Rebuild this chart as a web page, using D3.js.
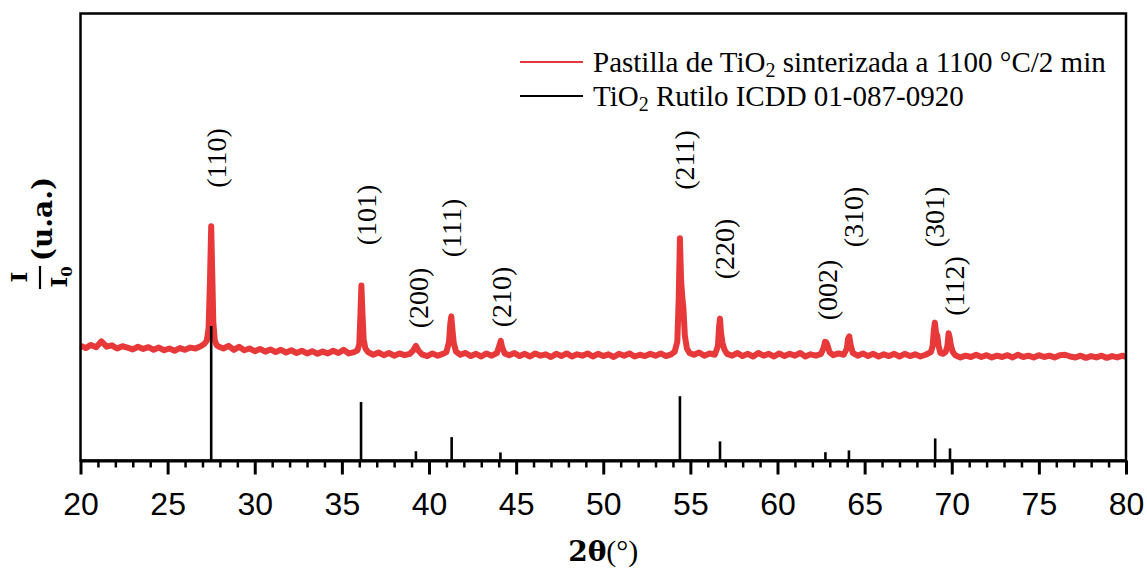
<!DOCTYPE html>
<html>
<head>
<meta charset="utf-8">
<script src="https://cdn.jsdelivr.net/npm/d3@7"></script>
<style>
  html, body { margin: 0; padding: 0; background: #ffffff; }
  svg { display: block; }
</style>
</head>
<body>
<svg id="chart" width="1147" height="569"></svg>
<script>
// ---- data -------------------------------------------------------------
// X-axis ticks (2θ, degrees)
const majorTicks = [20, 25, 30, 35, 40, 45, 50, 55, 60, 65, 70, 75, 80];
const minorTicks = d3.range(20, 81, 1).filter(v => v % 5 !== 0);

// Reference pattern: rutile TiO2, ICDD 01-087-0920 (relative intensity, %)
const refHkl       = ["(110)", "(101)", "(200)", "(111)", "(210)", "(211)", "(220)", "(002)", "(310)", "(301)", "(112)"];
const refAngle     = [27.5, 36.1, 39.25, 41.3, 44.1, 54.4, 56.7, 62.75, 64.1, 69.05, 69.9];
const refIntensity = [100, 43.5, 6.9, 17.4, 6.0, 47.8, 14.2, 6.2, 7.5, 16.4, 9.0];

// Measured scan of the pellet sintered at 1100 °C / 2 min: [2θ, I (u.a.)]
const scan = [
  [20.0,25.6],[20.3,25.1],[20.6,25.8],[20.9,25.3],[21.2,26.6],[21.5,25.4],[21.8,25.7],[22.1,25.0],
  [22.4,25.5],[22.7,25.2],[23.0,24.8],[23.3,25.4],[23.6,24.9],[23.9,25.3],[24.2,24.7],[24.5,25.2],
  [24.8,24.6],[25.1,25.0],[25.4,24.5],[25.7,25.1],[26.0,24.7],[26.3,25.2],[26.6,25.0],[26.9,25.5],
  [27.1,26.0],[27.25,26.8],[27.35,29.5],[27.43,40.0],[27.5,52.4],[27.56,42.0],[27.62,31.0],[27.7,27.0],
  [27.8,25.8],[27.95,25.4],[28.2,25.0],[28.5,25.6],[28.8,24.7],[29.1,25.4],[29.4,24.6],[29.7,25.0],
  [30.0,24.4],[30.3,24.9],[30.6,24.3],[30.9,24.8],[31.2,24.2],[31.5,24.7],[31.8,24.1],[32.1,24.6],
  [32.4,24.0],[32.7,24.5],[33.0,23.9],[33.3,24.4],[33.6,23.8],[33.9,24.3],[34.2,23.9],[34.5,24.5],
  [34.8,24.0],[35.1,24.7],[35.4,23.9],[35.7,24.2],[35.9,24.6],[36.0,26.0],[36.06,32.0],[36.12,39.1],
  [36.18,33.0],[36.25,27.0],[36.35,25.0],[36.5,24.2],[36.8,23.6],[37.1,24.1],[37.4,23.5],[37.7,24.0],
  [38.0,23.4],[38.3,23.9],[38.6,23.5],[38.9,23.8],[39.1,24.6],[39.25,25.6],[39.4,24.5],[39.6,23.7],
  [39.9,23.3],[40.2,23.9],[40.5,23.4],[40.8,23.8],[41.0,24.2],[41.15,26.5],[41.22,30.5],[41.28,32.2],
  [41.35,29.0],[41.42,26.2],[41.55,24.3],[41.8,23.6],[42.1,24.0],[42.4,23.3],[42.7,23.8],[43.0,23.2],
  [43.3,23.9],[43.6,23.4],[43.9,24.0],[44.05,25.8],[44.12,26.7],[44.2,25.2],[44.35,23.9],[44.6,23.5],
  [44.9,24.0],[45.2,23.3],[45.5,23.8],[45.8,23.2],[46.1,23.9],[46.4,23.4],[46.7,23.7],[47.0,23.1],
  [47.3,23.8],[47.6,23.3],[47.9,23.9],[48.2,23.2],[48.5,23.7],[48.8,23.4],[49.1,23.9],[49.4,23.2],
  [49.7,23.8],[50.0,23.3],[50.3,23.7],[50.6,23.1],[50.9,23.8],[51.2,23.4],[51.5,23.9],[51.8,23.2],
  [52.1,23.6],[52.4,23.3],[52.7,23.8],[53.0,23.4],[53.3,23.9],[53.6,23.3],[53.9,23.7],[54.1,24.3],
  [54.25,26.5],[54.33,36.0],[54.4,49.7],[54.47,40.0],[54.54,36.4],[54.6,34.0],[54.68,28.0],[54.8,25.0],
  [54.95,24.0],[55.2,23.6],[55.5,24.1],[55.8,23.4],[56.1,23.9],[56.4,23.6],[56.58,25.5],[56.65,30.0],
  [56.7,31.7],[56.76,28.5],[56.84,26.3],[56.95,24.8],[57.1,23.8],[57.4,23.4],[57.7,24.0],[58.0,23.3],
  [58.3,23.8],[58.6,23.2],[58.9,24.0],[59.2,23.4],[59.5,23.8],[59.8,23.2],[60.1,23.9],[60.4,23.3],
  [60.7,23.8],[61.0,23.4],[61.3,24.0],[61.6,23.2],[61.9,23.7],[62.2,23.4],[62.5,23.8],[62.65,25.2],
  [62.73,26.5],[62.8,26.4],[62.88,25.6],[62.98,24.2],[63.2,23.5],[63.5,23.9],[63.8,23.6],[63.98,25.0],
  [64.05,27.2],[64.12,27.7],[64.2,25.8],[64.32,24.0],[64.6,23.4],[64.9,23.9],[65.2,23.3],[65.5,23.8],
  [65.8,23.2],[66.1,23.7],[66.4,23.3],[66.7,23.8],[67.0,23.2],[67.3,23.8],[67.6,23.3],[67.9,23.7],
  [68.2,23.2],[68.5,23.6],[68.8,24.2],[68.9,25.5],[68.97,29.0],[69.03,30.8],[69.1,28.5],[69.17,27.9],
  [69.25,25.5],[69.35,24.0],[69.5,23.8],[69.65,24.2],[69.75,25.6],[69.82,28.4],[69.88,27.5],[69.95,25.7],
  [70.05,24.3],[70.2,23.5],[70.5,23.0],[70.8,23.4],[71.1,23.1],[71.4,23.6],[71.7,23.1],[72.0,23.5],
  [72.3,23.0],[72.6,23.4],[72.9,23.1],[73.2,23.5],[73.5,23.0],[73.8,23.6],[74.1,23.1],[74.4,23.4],
  [74.7,23.0],[75.0,23.5],[75.3,23.1],[75.6,23.4],[75.9,23.0],[76.2,23.5],[76.5,23.6],[76.8,23.2],
  [77.1,23.0],[77.4,23.4],[77.7,22.9],[78.0,23.3],[78.3,23.0],[78.6,23.4],[78.9,22.9],[79.2,23.3],
  [79.5,23.0],[79.8,23.4],[80.0,23.1]
];

const legendEntries = [
  { text: ["Pastilla de TiO", "2", " sinterizada a 1100 °C/2 min"], color: "#e8393a" },
  { text: ["TiO", "2", " Rutilo ICDD 01-087-0920"], color: "#000000" }
];

// ---- layout -----------------------------------------------------------
const plot = { left: 80.5, right: 1126, top: 13.5, bottom: 460.5 };
const scanColor = "#e8393a";
const serif = "'Liberation Serif', 'Times New Roman', serif";
const boldSerif = "'DejaVu Serif', serif";

// pixel centres of the rotated Miller-index labels
const hklLabelPos = [
  [216, 158], [366, 215], [418, 298], [451, 228], [501, 297],
  [684, 160], [724, 249], [827, 290], [853, 217], [934, 217], [954, 286]
];

const svg = d3.select("#chart");

const x = d3.scaleLinear().domain([20, 80]).range([plot.left, plot.right]);
const yScan = d3.scaleLinear().domain([0, 100]).range([460, 14]);
const yRef = d3.scaleLinear().domain([0, 100]).range([plot.bottom, 326]);

// measured pattern
const line = d3.line()
  .x(d => x(d[0]))
  .y(d => yScan(d[1]));

svg.append("path")
  .datum(scan)
  .attr("d", line)
  .attr("fill", "none")
  .attr("stroke", scanColor)
  .attr("stroke-width", 6)
  .attr("stroke-linejoin", "round")
  .attr("stroke-linecap", "butt");

// reference sticks
svg.append("g")
  .selectAll("line")
  .data(refAngle.map((a, i) => [a, refIntensity[i]]))
  .join("line")
  .attr("x1", d => x(d[0]))
  .attr("x2", d => x(d[0]))
  .attr("y1", yRef(0))
  .attr("y2", d => yRef(d[1]))
  .attr("stroke", "#000")
  .attr("stroke-width", 2.6);

// frame
svg.append("rect")
  .attr("x", plot.left)
  .attr("y", plot.top)
  .attr("width", plot.right - plot.left)
  .attr("height", plot.bottom - plot.top)
  .attr("fill", "none")
  .attr("stroke", "#000")
  .attr("stroke-width", 2.5);

// x axis: minor ticks
const minorAxis = svg.append("g")
  .attr("transform", `translate(0,${plot.bottom})`)
  .call(d3.axisBottom(x).tickValues(minorTicks).tickSize(7).tickFormat(""));
minorAxis.select(".domain").remove();
minorAxis.selectAll(".tick line").attr("stroke-width", 2.5);

// x axis: major ticks + labels
const majorAxis = svg.append("g")
  .attr("transform", `translate(0,${plot.bottom})`)
  .call(d3.axisBottom(x).tickValues(majorTicks).tickSize(14).tickSizeOuter(0).tickPadding(18));
majorAxis.select(".domain").attr("stroke-width", 3);
majorAxis.selectAll(".tick line").attr("stroke-width", 3);
majorAxis.selectAll(".tick text")
  .attr("font-family", "'Liberation Sans', Arial, sans-serif")
  .attr("font-size", 32)
  .attr("fill", "#000");

// Miller indices
svg.append("g")
  .selectAll("text")
  .data(refHkl)
  .join("text")
  .attr("transform", (d, i) => `translate(${hklLabelPos[i][0]},${hklLabelPos[i][1]}) rotate(-90)`)
  .attr("text-anchor", "middle")
  .attr("dominant-baseline", "central")
  .attr("font-family", serif)
  .attr("font-size", 28)
  .attr("fill", "#000")
  .text(d => d);

// legend
const legend = svg.append("g");
legendEntries.forEach((e, i) => {
  const yy = 62 + i * 34;
  legend.append("line")
    .attr("x1", 520).attr("x2", 583)
    .attr("y1", yy).attr("y2", yy)
    .attr("stroke", e.color)
    .attr("stroke-width", 2);
  const t = legend.append("text")
    .attr("x", 593)
    .attr("y", yy + 10)
    .attr("font-family", serif)
    .attr("font-size", 29)
    .attr("fill", "#000");
  t.append("tspan").text(e.text[0]);
  t.append("tspan").attr("font-size", 20).attr("dy", 5).text(e.text[1]);
  t.append("tspan").attr("dy", -5).text(e.text[2]);
});

// x-axis title: 2θ(°)
const xTitle = svg.append("text")
  .attr("x", (plot.left + plot.right) / 2)
  .attr("y", 561)
  .attr("text-anchor", "middle")
  .attr("font-family", boldSerif)
  .attr("font-size", 28)
  .attr("fill", "#000");
xTitle.append("tspan").attr("font-weight", "bold").text("2θ");
xTitle.append("tspan").attr("font-family", serif).attr("font-size", 30).text("(°)");

// y-axis title: I / I0 (u.a.)
const yTitle = svg.append("g")
  .attr("transform", "translate(40,232) rotate(-90)");
yTitle.append("text")
  .attr("x", -45).attr("y", -13)
  .attr("text-anchor", "middle")
  .attr("font-family", boldSerif).attr("font-weight", "bold")
  .attr("font-size", 23)
  .text("I");
yTitle.append("line")
  .attr("x1", -57).attr("x2", -34)
  .attr("y1", 0).attr("y2", 0)
  .attr("stroke", "#000").attr("stroke-width", 2.2);
const den = yTitle.append("text")
  .attr("x", -45).attr("y", 27)
  .attr("text-anchor", "middle")
  .attr("font-family", boldSerif).attr("font-weight", "bold")
  .attr("font-size", 23);
den.append("tspan").text("I");
den.append("tspan").attr("font-size", 15).attr("dy", 5).text("0");
yTitle.append("text")
  .attr("x", 13).attr("y", 12)
  .attr("text-anchor", "middle")
  .attr("font-family", boldSerif).attr("font-weight", "bold")
  .attr("font-size", 28)
  .text("(u.a.)");
</script>
</body>
</html>
